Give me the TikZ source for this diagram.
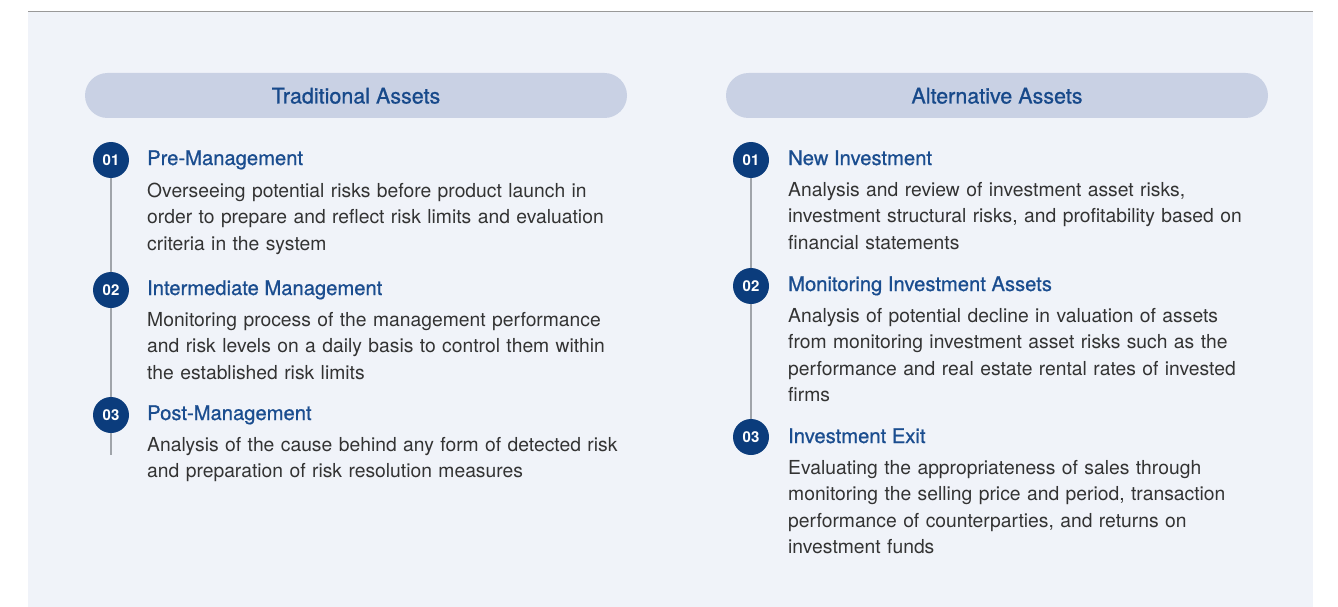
\documentclass[tikz,border=0pt]{standalone}
\usepackage{fontspec}
\setmainfont{TeX Gyre Heros}
\newfontfamily\medfont{TeX Gyre Heros}[FakeBold=0.8]
\usetikzlibrary{positioning}
\definecolor{panelbg}{HTML}{F0F3F9}
\definecolor{pillbg}{HTML}{C9D1E4}
\definecolor{headblue}{HTML}{17498A}
\definecolor{titleblue}{HTML}{1A4D8F}
\definecolor{navy}{HTML}{0B3C7C}
\definecolor{bodygray}{HTML}{333333}
\definecolor{linegray}{HTML}{A0A4AA}
\tikzset{
  header/.style={fill=pillbg, rounded corners=22.5pt, minimum width=542, minimum height=45, inner sep=0, text height=16pt, text depth=-1.5pt, text=headblue, font=\fontsize{21.5}{24}\medfont},
  num/.style={circle, fill=navy, text=white, minimum size=36, inner sep=0, font=\fontsize{15}{15}\selectfont\bfseries},
  item title/.style={anchor=base west, inner sep=0, text=titleblue, font=\fontsize{20.2}{24}\medfont},
  item text/.style={anchor=base west, inner sep=0, text=bodygray, text width=520, align=left, font=\fontsize{19.3}{26.5}\selectfont},
  timeline/.style={draw=linegray, line width=1.2pt}
}

\begin{document}
\begin{tikzpicture}[x=1pt,y=-1pt]
  \useasboundingbox (0,0) rectangle (1338,607);
  % panel
  \fill[panelbg] (28,12) rectangle (1313,607);
  \draw[draw=gray!80, line width=1pt] (28,11.5) -- (1313,11.5);

  % traditional assets
  \node[header] (trad) at (356,95.5) {Traditional Assets};
  \node[num] (t1) at (111,160) {01};
  \node[num] (t2) at (111,290) {02};
  \node[num] (t3) at (111,415) {03};
  \coordinate (tend) at (111,455);
  \draw[timeline] (t1.south) -- (t2.north) (t2.south) -- (t3.north) (t3.south) -- (tend);
  \node[item title] (t1title) at (147,165) {Pre-Management};
  \node[item text] (t1text) at (147,197) {Overseeing potential risks before product launch in\\order to prepare and reflect risk limits and evaluation\\criteria in the system};
  \node[item title] (t2title) at (147,295) {Intermediate Management};
  \node[item text] (t2text) at (147,326) {Monitoring process of the management performance\\and risk levels on a daily basis to control them within\\the established risk limits};
  \node[item title] (t3title) at (147,420) {Post-Management};
  \node[item text] (t3text) at (147,451) {Analysis of the cause behind any form of detected risk\\and preparation of risk resolution measures};

  % alternative assets
  \node[header] (alt) at (997,95.5) {Alternative Assets};
  \node[num] (a1) at (751,160) {01};
  \node[num] (a2) at (751,286) {02};
  \node[num] (a3) at (751,437) {03};
  \draw[timeline] (a1.south) -- (a2.north) (a2.south) -- (a3.north);
  \node[item title] (a1title) at (788,165) {New Investment};
  \node[item text] (a1text) at (788,196) {Analysis and review of investment asset risks,\\investment structural risks, and profitability based on\\financial statements};
  \node[item title] (a2title) at (788,291) {Monitoring Investment Assets};
  \node[item text] (a2text) at (788,322) {Analysis of potential decline in valuation of assets\\from monitoring investment asset risks such as the\\performance and real estate rental rates of invested\\firms};
  \node[item title] (a3title) at (788,443) {Investment Exit};
  \node[item text] (a3text) at (788,474) {Evaluating the appropriateness of sales through\\monitoring the selling price and period, transaction\\performance of counterparties, and returns on\\investment funds};
\end{tikzpicture}
\end{document}
